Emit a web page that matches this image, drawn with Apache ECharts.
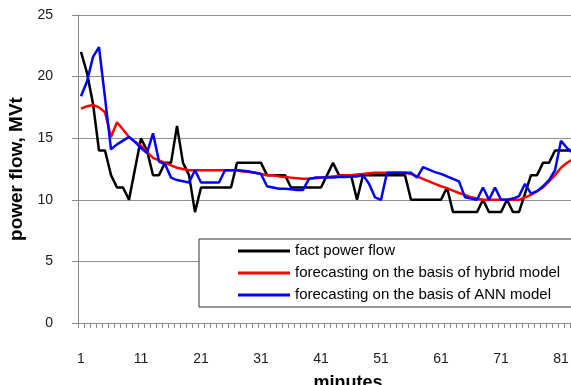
<!DOCTYPE html>
<html>
<head>
<meta charset="utf-8">
<script src="https://cdn.jsdelivr.net/npm/echarts@6/dist/echarts.min.js"></script>
<style>
html, body { margin: 0; padding: 0; background: #fff; }
#chart { width: 571px; height: 385px; }
</style>
</head>
<body>
<div id="chart"></div>
<script>
// minutes 1..83
let minutes = ['1','2','3','4','5','6','7','8','9','10','11','12','13','14','15','16','17','18','19','20',
    '21','22','23','24','25','26','27','28','29','30','31','32','33','34','35','36','37','38','39','40',
    '41','42','43','44','45','46','47','48','49','50','51','52','53','54','55','56','57','58','59','60',
    '61','62','63','64','65','66','67','68','69','70','71','72','73','74','75','76','77','78','79','80',
    '81','82','83'];

// fact power flow
let factFlow = [22, 20.3, 17.8, 14, 14, 12, 11, 11, 10, 12.5,
    15, 14, 12, 12, 13, 13, 16, 13, 12, 9,
    11, 11, 11, 11, 11, 11, 13, 13, 13, 13,
    13, 12, 12, 12, 12, 11, 11, 11, 11, 11,
    11, 12, 13, 12, 12, 12, 10, 12, 12, 12,
    12, 12, 12, 12, 12, 10, 10, 10, 10, 10,
    10, 11, 9, 9, 9, 9, 9, 10, 9, 9,
    9, 10, 9, 9, 10.5, 12, 12, 13, 13, 14,
    14, 14, 14];

// hybrid model
let hybridForecast = [17.4, 17.6, 17.7, 17.5, 17.1, 15.1, 16.3, 15.7, 15.1, 14.7,
    14.4, 13.9, 13.4, 13.2, 13.0, 12.8, 12.6, 12.5, 12.4, 12.4,
    12.4, 12.4, 12.4, 12.4, 12.4, 12.4, 12.4, 12.3, 12.25, 12.2,
    12.1, 12.0, 12.0, 11.9, 11.85, 11.8, 11.75, 11.7, 11.7, 11.75,
    11.8, 11.85, 11.9, 11.95, 12.0, 12.0, 12.05, 12.1, 12.15, 12.2,
    12.2, 12.2, 12.2, 12.2, 12.2, 12.1, 11.9, 11.7, 11.5, 11.3,
    11.1, 10.95, 10.75, 10.55, 10.4, 10.2, 10.1, 10.0, 10.0, 10.0,
    10.0, 10.0, 10.0, 10.0, 10.2, 10.4, 10.7, 11.0, 11.5, 12.0,
    12.6, 13.0, 13.3];

// ANN model
let annForecast = [18.4, 19.6, 21.6, 22.4, 18.3, 14.1, 14.5, 14.8, 15.1, 14.7,
    14.2, 13.8, 15.4, 13.1, 12.9, 11.8, 11.6, 11.5, 11.4, 12.4,
    11.4, 11.4, 11.4, 11.4, 12.4, 12.4, 12.4, 12.35, 12.3, 12.2,
    12.1, 11.1, 11.0, 10.9, 10.9, 10.85, 10.8, 10.8, 11.7, 11.8,
    11.8, 11.8, 11.8, 11.85, 11.85, 11.9, 11.9, 12.0, 11.3, 10.2,
    10.0, 12.2, 12.2, 12.2, 12.2, 12.2, 11.8, 12.65, 12.45, 12.25,
    12.1, 11.9, 11.7, 11.5, 10.2, 10.1, 10.0, 11.0, 10.0, 11.0,
    10.0, 10.0, 10.1, 10.3, 11.3, 10.5, 10.7, 11.1, 11.6, 12.4,
    14.8, 14.2, 13.8];

let seriesNames = ['fact power flow', 'forecasting on the basis of hybrid model', 'forecasting on the basis of ANN model'];

let font = '"Liberation Sans", Arial, sans-serif';
let chart = echarts.init(document.getElementById('chart'));

let option = {
    animation: false,
    backgroundColor: '#fff',
    grid: { left: 78, top: 15, width: 498, height: 308, outerBoundsMode: 'none', containLabel: false },
    legend: {
        data: seriesNames,
        orient: 'vertical',
        left: 199,
        top: 239,
        padding: [4, 40, 4, 39],
        icon: 'rect',
        itemWidth: 52,
        itemHeight: 3,
        itemGap: 6,
        backgroundColor: '#fff',
        borderColor: '#333',
        borderWidth: 1,
        textStyle: { fontFamily: font, fontSize: 15, lineHeight: 16, color: '#000' }
    },
    xAxis: {
        type: 'category',
        data: minutes,
        boundaryGap: true,
        name: 'minutes',
        nameLocation: 'middle',
        nameGap: 51,
        nameTextStyle: { fontFamily: font, fontSize: 18, fontWeight: 'bold', color: '#000', padding: [0, 0, 0, 42] },
        axisLine: { lineStyle: { color: '#888', width: 1 } },
        axisTick: { show: true, interval: 0, length: 5, lineStyle: { color: '#888' } },
        axisLabel: {
            interval: function (idx) { return idx % 10 === 0; },
            margin: 29,
            fontFamily: font,
            fontSize: 14,
            color: '#1a1a1a'
        },
        splitLine: { show: false }
    },
    yAxis: {
        type: 'value',
        min: 0,
        max: 25,
        interval: 5,
        name: 'power flow, MVt',
        nameLocation: 'middle',
        nameGap: 52,
        nameRotate: 90,
        nameTextStyle: { fontFamily: font, fontSize: 19, fontWeight: 'bold', color: '#000' },
        axisLine: { show: true, lineStyle: { color: '#888', width: 1 } },
        axisTick: { show: true, length: 6, lineStyle: { color: '#888' } },
        axisLabel: { margin: 25, fontFamily: font, fontSize: 14, color: '#1a1a1a' },
        splitLine: { show: true, lineStyle: { color: '#8f8f8f', width: 1 } }
    },
    series: [
        {
            name: seriesNames[0], type: 'line', data: factFlow,
            symbol: 'none', lineStyle: { color: '#000', width: 2.5 }, itemStyle: { color: '#000' }
        },
        {
            name: seriesNames[1], type: 'line', data: hybridForecast,
            symbol: 'none', lineStyle: { color: '#ff0000', width: 2.5 }, itemStyle: { color: '#ff0000' }
        },
        {
            name: seriesNames[2], type: 'line', data: annForecast,
            symbol: 'none', lineStyle: { color: '#0000ff', width: 2.5 }, itemStyle: { color: '#0000ff' }
        }
    ]
};

chart.setOption(option);
</script>
</body>
</html>
